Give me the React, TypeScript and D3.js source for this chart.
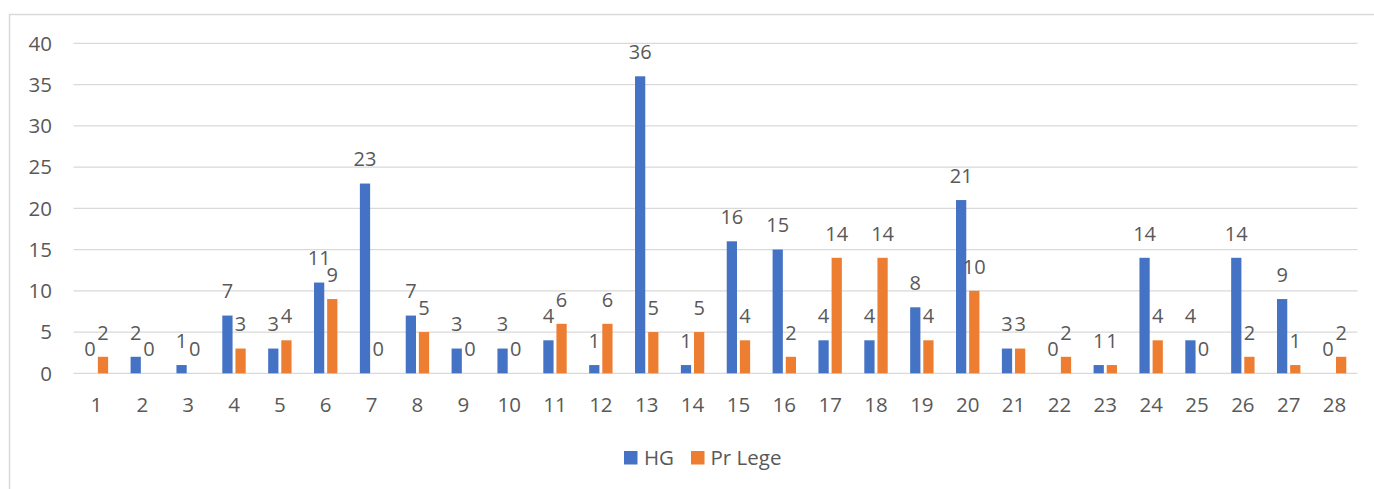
import React from "react";
import * as d3 from "d3";

const categories = Array.from({ length: 28 }, (_, i) => String(i + 1));
const hgValues = [0, 2, 1, 7, 3, 11, 23, 7, 3, 3, 4, 1, 36, 1, 16, 15, 4, 4, 8, 21, 3, 0, 1, 14, 4, 14, 9, 0];
const prLegeValues = [2, 0, 0, 3, 4, 9, 0, 5, 0, 0, 6, 6, 5, 5, 4, 2, 14, 14, 4, 10, 3, 2, 1, 4, 0, 2, 1, 2];
const seriesNames = ["HG", "Pr Lege"];
const seriesColors = ["#4472C4", "#ED7D31"];
const yTicks = [0, 5, 10, 15, 20, 25, 30, 35, 40];

const W = 1374;
const H = 489;
const left = 73.5;
const right = 1357.5;
const top = 43.3;
const bottom = 373.3;
const font = "'Open Sans', 'Liberation Sans', sans-serif";
const textColor = "#595959";

export default function App() {
  const x0 = d3.scaleBand<string>().domain(categories).range([left, right]).paddingInner(0.49).paddingOuter(0.245);
  const x1 = d3.scaleBand<string>().domain(seriesNames).range([0, x0.bandwidth()]).paddingInner(0.22);
  const y = d3.scaleLinear().domain([0, 40]).range([bottom, top]);
  const series = [hgValues, prLegeValues];

  return (
    <svg width={W} height={H} style={{ position: "fixed", left: 0, top: 0, background: "#fff" }}>
      <rect x={0} y={0} width={W} height={H} fill="#fff" />
      <path d={`M9.5,${H + 5}V14.5H${W + 5}`} fill="none" stroke="#d9d9d9" strokeWidth={1.5} />
      {yTicks.map((t) => (
        <g key={t}>
          <line x1={left} x2={right} y1={y(t)} y2={y(t)} stroke="#d9d9d9" strokeWidth={1.3} />
          <text x={52} y={y(t)} dy="0.36em" textAnchor="end" fontFamily={font} fontSize={20.5} fill={textColor}>
            {t}
          </text>
        </g>
      ))}
      {categories.map((c, i) => (
        <g key={c}>
          {series.map((vals, s) => {
            const bx = (x0(c) as number) + (x1(seriesNames[s]) as number);
            const bw = x1.bandwidth();
            const v = vals[i];
            return (
              <g key={s}>
                {v > 0 && <rect x={bx} y={y(v)} width={bw} height={y(0) - y(v)} fill={seriesColors[s]} />}
                <text x={bx + bw / 2} y={y(v) - 24.5} dy="0.36em" textAnchor="middle" fontFamily={font} fontSize={20} fill={textColor}>
                  {v}
                </text>
              </g>
            );
          })}
          <text x={(x0(c) as number) + x0.bandwidth() / 2} y={412} textAnchor="middle" fontFamily={font} fontSize={20.5} fill={textColor}>
            {c}
          </text>
        </g>
      ))}
      <g>
        <rect x={624} y={451} width={13.5} height={13.5} fill={seriesColors[0]} />
        <text x={644} y={464.5} fontFamily={font} fontSize={20.5} fill={textColor}>{seriesNames[0]}</text>
        <rect x={691} y={451} width={13.5} height={13.5} fill={seriesColors[1]} />
        <text x={710.5} y={464.5} fontFamily={font} fontSize={20.5} fill={textColor}>{seriesNames[1]}</text>
      </g>
    </svg>
  );
}
